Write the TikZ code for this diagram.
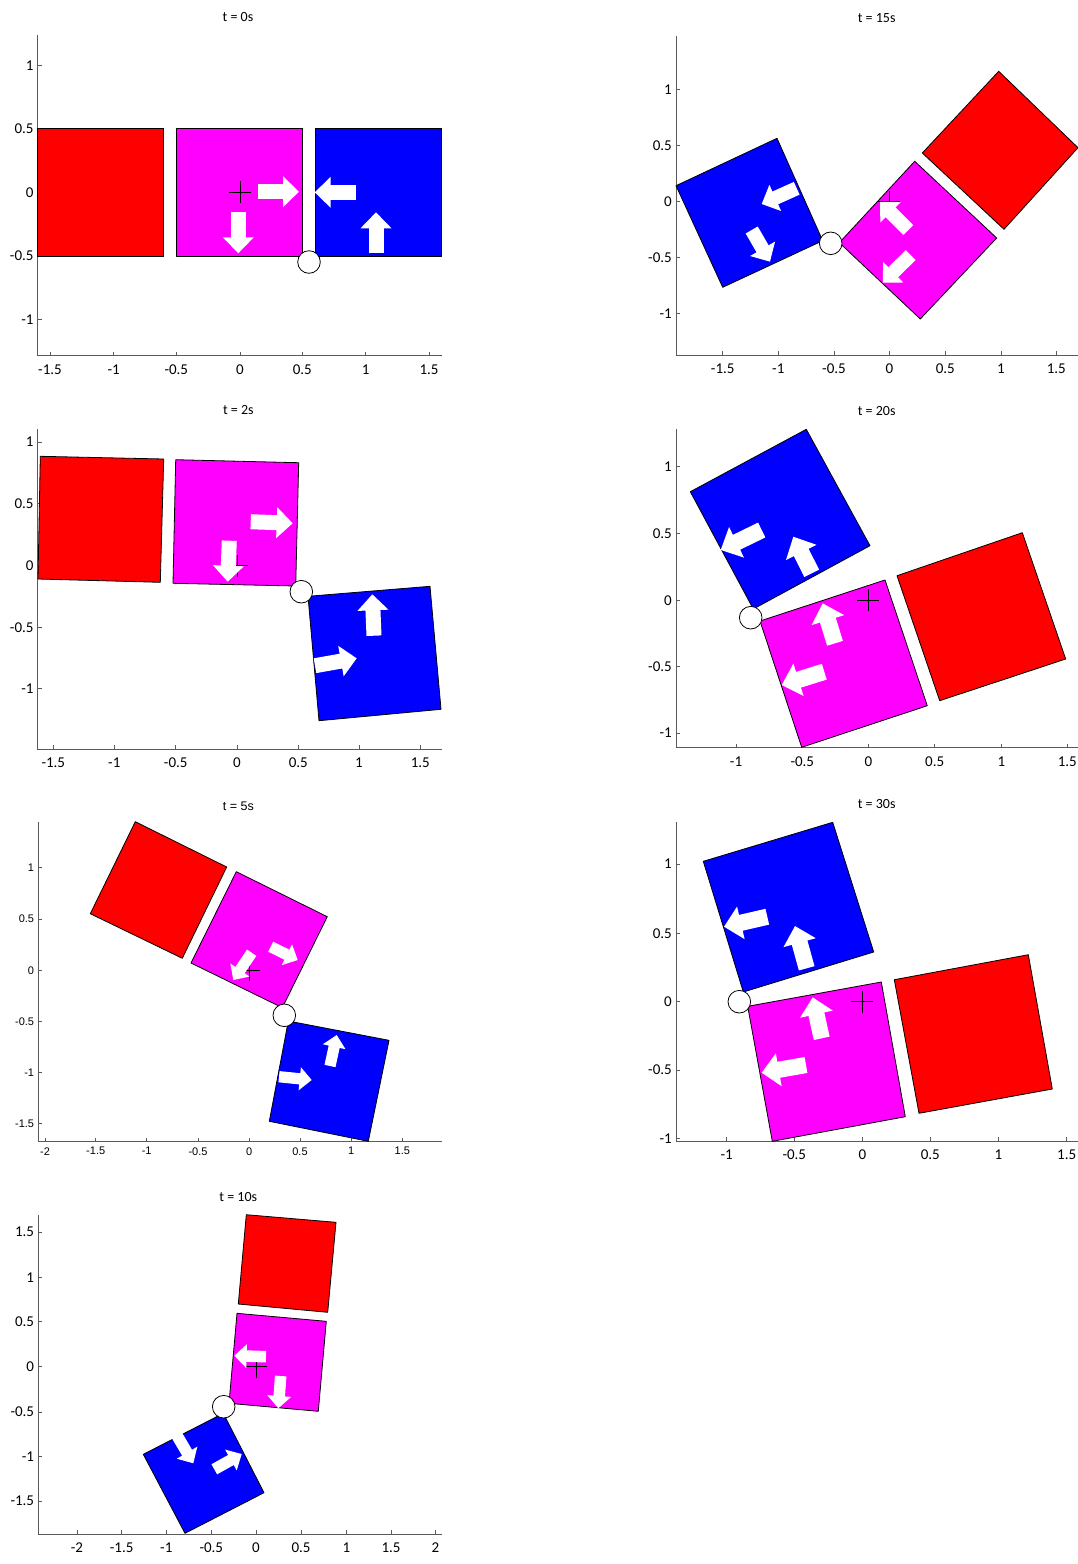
\documentclass[tikz,border=0pt]{standalone}
\usepackage{fontspec}
\setmainfont{Carlito}
\newfontfamily\arialf{Liberation Sans}
\usetikzlibrary{arrows.meta}
\definecolor{mred}{RGB}{255,0,0}
\definecolor{mmag}{RGB}{255,0,255}
\definecolor{mblue}{RGB}{0,0,255}
\definecolor{axgray}{RGB}{90,90,90}
\tikzset{
  axisline/.style={draw=axgray, line width=1pt},
  xlab/.style={font=\fontsize{15}{15}\selectfont, inner sep=0pt, yshift=-14pt},
  ylab/.style={font=\fontsize{15}{15}\selectfont, inner sep=0pt, anchor=east, xshift=-4pt},
  xlabs/.style={font=\arialf\fontsize{11}{11}\selectfont, inner sep=0pt, yshift=-9.5pt},
  ylabs/.style={font=\arialf\fontsize{11}{11}\selectfont, inner sep=0pt, anchor=east, xshift=-4pt},
  titlab/.style={font=\fontsize{14}{14}\selectfont, inner sep=0pt},
  titlabs/.style={font=\arialf\fontsize{12.5}{12.5}\selectfont, inner sep=0pt},
  blk/.style={draw=black, line width=0.8pt, line join=round},
  redb/.style={blk, fill=mred},
  magb/.style={blk, fill=mmag},
  blueb/.style={blk, fill=mblue},
  hinge/.style={draw=black, fill=white, line width=0.8pt},
  crossl/.style={draw=black, line width=0.9pt}
}
% #1 prefix, #2 y-axis x, #3 top y, #4 x-axis y, #5 right x, #6 xticks, #7 yticks, #8 xlabel style, #9 ylabel style
\newcommand\panelaxes[9]{%
  \draw[axisline] (#2,#3) -- (#2,#4) -- (#5,#4);
  \foreach \p/\l [count=\k] in {#6} {
    \draw[axisline] (\p,#4) -- (\p,#4-4);
    \node[#8] (#1x\k) at (\p,#4) {\l};
  }
  \foreach \p/\l [count=\k] in {#7} {
    \draw[axisline] (#2,\p) -- (#2+4,\p);
    \node[#9] (#1y\k) at (#2,\p) {\l};
  }
}
% white block arrow: #1 tail, #2 tip, #3 scale
\newcommand\warr[3]{%
  \pgfmathsetmacro\wsh{15*#3}%
  \pgfmathsetmacro\whw{30*#3}%
  \pgfmathsetmacro\whl{16*#3}%
  \draw[white, line width=\wsh pt, -{Triangle[width=\whw pt,length=\whl pt]}] #1 -- #2;
}
\newcommand\mcross[2]{%
  \draw[crossl] (#1-11,#2) -- (#1+11,#2);
  \draw[crossl] (#1,#2-11) -- (#1,#2+11);
}
\begin{document}
\begin{tikzpicture}[x=1pt,y=-1pt]
\useasboundingbox (0,0) rectangle (1078,1564);
\fill[white] (0,0) rectangle (1078,1564);

% ---------------- Panel t = 0s
\node[titlab] (t1) at (238,17) {t = 0s};
\panelaxes{pa}{37.7}{35}{355.7}{441.7}{50/-1.5,113.7/-1,176.3/-0.5,240/0,302.3/0.5,365.7/1,429/1.5}{65.3/1,128.3/0.5,192.3/0,256/-0.5,319.3/-1}{xlab}{ylab}
\filldraw[redb] (37.7,128.3) -- (163.7,128.3) -- (163.7,256) -- (37.7,256) -- cycle;
\filldraw[magb] (176.3,128.3) -- (302.3,128.3) -- (302.3,256) -- (176.3,256) -- cycle;
\filldraw[blueb] (315.3,128.3) -- (441.7,128.3) -- (441.7,256) -- (315.3,256) -- cycle;
\draw[hinge] (309,262) circle[radius=11.3pt];
\mcross{240}{192.3}
\warr{(258.3,191.7)}{(299,191.7)}{1}
\warr{(238.3,212.3)}{(238.3,253.3)}{1}
\warr{(355.7,192.3)}{(314.7,192.3)}{1}
\warr{(376,253.3)}{(376,212.3)}{1}

% ---------------- Panel t = 15s
\node[titlab] (t2) at (876.7,18) {t = 15s};
\panelaxes{pb}{676}{36}{355}{1078}{722.7/-1.5,778.3/-1,834/-0.5,889.3/0,945.3/0.5,1001/1,1056.3/1.5}{89.3/1,145.7/0.5,201.7/0,257.3/-0.5,313.3/-1}{xlab}{ylab}
\filldraw[blueb] (676,185.7) -- (777,138.3) -- (822.7,240.7) -- (722.7,287.3) -- cycle;
\filldraw[magb] (839.3,242.7) -- (914.7,161.3) -- (996.7,238) -- (920.3,319) -- cycle;
\filldraw[redb] (922.3,153) -- (998.7,71.3) -- (1078,147.7) -- (1004,229.3) -- cycle;
\draw[hinge] (830.7,243.3) circle[radius=11.3pt];
\mcross{889.3}{201.7}
\warr{(796.7,188.3)}{(761.7,204)}{0.93}
\warr{(751.7,230)}{(770,261.7)}{0.93}
\warr{(908.3,230)}{(880,201.7)}{0.93}
\warr{(910.7,255)}{(882.7,282.7)}{0.93}

% ---------------- Panel t = 2s
\node[titlab] (t3) at (238.3,410) {t = 2s};
\panelaxes{pc}{37.7}{429}{749}{441.7}{53.3/-1.5,114.3/-1,175.7/-0.5,237/0,298.3/0.5,359/1,420.3/1.5}{442/1,503.7/0.5,565.7/0,627.3/-0.5,688.3/-1}{xlab}{ylab}
\filldraw[redb] (40.3,456.3) -- (163.7,459) -- (160.3,582.3) -- (38,579) -- cycle;
\filldraw[magb] (175.7,459.7) -- (298.7,462.7) -- (295.7,586) -- (173,583.3) -- cycle;
\filldraw[blueb] (308,596.3) -- (430,586.3) -- (441,709.3) -- (319,720.7) -- cycle;
\draw[hinge] (301.3,591.7) circle[radius=11.3pt];
\mcross{237}{565.7}
\warr{(250.7,521.7)}{(292.7,523.3)}{1}
\warr{(229.3,540.7)}{(227.7,581.7)}{1}
\warr{(374,635.7)}{(372.3,594.3)}{1}
\warr{(315,665.7)}{(356.7,658.3)}{1}

% ---------------- Panel t = 20s
\node[titlab] (t4) at (876.7,411) {t = 20s};
\panelaxes{pd}{676}{429}{747.7}{1078}{736/-1,802.3/-0.5,868.3/0,934.7/0.5,1001.3/1,1067.3/1.5}{466.7/1,533.7/0.5,600.3/0,666.7/-0.5,733/-1}{xlab}{ylab}
\filldraw[blueb] (690.3,491.7) -- (806.3,429.3) -- (870,545.7) -- (753.3,609) -- cycle;
\filldraw[magb] (760,621) -- (885,580) -- (927.3,705.7) -- (801.7,747.3) -- cycle;
\filldraw[redb] (897,575.7) -- (1022.3,532.7) -- (1065.7,659) -- (939.7,700.7) -- cycle;
\draw[hinge] (750.7,617.7) circle[radius=11.3pt];
\mcross{868.3}{600.3}
\warr{(761.7,530)}{(720.7,550)}{1.1}
\warr{(811.7,573.3)}{(793.3,536.7)}{1.1}
\warr{(835,643.3)}{(822.7,603.3)}{1.1}
\warr{(824.3,671.7)}{(781.7,685)}{1.1}

% ---------------- Panel t = 5s
\node[titlabs] (t5) at (238.3,806.7) {t = 5s};
\panelaxes{pe}{38.3}{821.7}{1141.7}{441.7}{45/-2,95.7/-1.5,146.7/-1,198/-0.5,249.3/0,300/0.5,351.3/1,402.3/1.5}{867.7/1,919/0.5,970.3/0,1021.3/-0.5,1072.3/-1,1123.7/-1.5}{xlabs}{ylabs}
\filldraw[redb] (135.3,821.7) -- (226.7,867) -- (182.3,958.3) -- (90.3,913.7) -- cycle;
\filldraw[magb] (236.3,871.7) -- (327.3,916.7) -- (282.3,1007.7) -- (191,963) -- cycle;
\filldraw[blueb] (288.3,1021) -- (389,1040.3) -- (368.3,1141.3) -- (269.3,1121.3) -- cycle;
\draw[hinge] (284.3,1015.3) circle[radius=11.3pt];
\mcross{249.3}{970.3}
\warr{(251.7,952.7)}{(233.3,980)}{0.75}
\warr{(270.7,946.7)}{(297.7,960)}{0.75}
\warr{(330,1066)}{(336.7,1035)}{0.75}
\warr{(279,1076.7)}{(311.7,1080)}{0.75}

% ---------------- Panel t = 30s
\node[titlab] (t6) at (876.7,804.3) {t = 30s};
\panelaxes{pf}{676}{822.3}{1141}{1078}{726.7/-1,794.3/-0.5,862.3/0,930.3/0.5,998.3/1,1066.7/1.5}{864/1,933.3/0.5,1001.7/0,1070/-0.5,1138.7/-1}{xlab}{ylab}
\filldraw[blueb] (703.3,861.3) -- (832.7,822.3) -- (873.7,952) -- (743.3,992) -- cycle;
\filldraw[magb] (747.7,1006.3) -- (881.3,982) -- (905.3,1116.7) -- (772.3,1141.3) -- cycle;
\filldraw[redb] (894.3,979.7) -- (1028.3,954.7) -- (1052.3,1089) -- (919,1113.3) -- cycle;
\draw[hinge] (739.3,1001.7) circle[radius=11.3pt];
\mcross{862.3}{1001.7}
\warr{(767.3,916.7)}{(724,926.7)}{1.08}
\warr{(806.7,968.3)}{(795,926)}{1.08}
\warr{(821.7,1038.3)}{(812.7,997.3)}{1.08}
\warr{(806,1065)}{(761.7,1072.7)}{1.08}

% ---------------- Panel t = 10s
\node[titlab] (t7) at (238.3,1196.7) {t = 10s};
\panelaxes{pg}{38.3}{1215}{1534}{441.7}{77/-2,121.7/-1.5,166.3/-1,211.3/-0.5,256/0,301/0.5,346.3/1,391/1.5,435.3/2}{1232/1.5,1277.3/1,1321.7/0.5,1366.7/0,1412/-0.5,1456.3/-1,1501/-1.5}{xlab}{ylab}
\filldraw[redb] (246.3,1214.7) -- (336,1222.3) -- (327.7,1312.3) -- (238.3,1304) -- cycle;
\filldraw[magb] (237,1313.3) -- (326.3,1321.3) -- (318.3,1411.3) -- (229,1403.3) -- cycle;
\filldraw[blueb] (143.3,1454.3) -- (223.3,1413.3) -- (264,1492.7) -- (185,1533.3) -- cycle;
\draw[hinge] (223.7,1406.7) circle[radius=11.3pt];
\mcross{256}{1366.7}
\warr{(266,1356.7)}{(234.3,1355.7)}{0.77}
\warr{(280.7,1376)}{(278.3,1408.3)}{0.77}
\warr{(176.7,1435)}{(193.3,1463.3)}{0.77}
\warr{(214.3,1469.3)}{(241.7,1454)}{0.77}
\end{tikzpicture}
\end{document}
